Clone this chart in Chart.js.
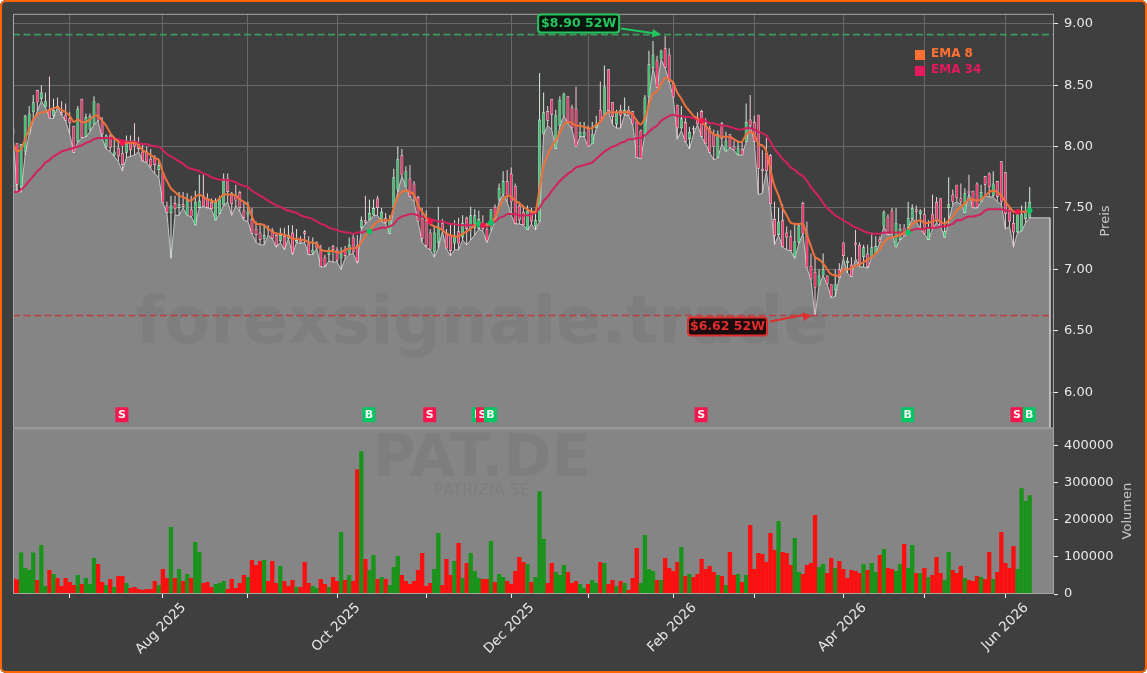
<!DOCTYPE html>
<html lang="de">
<head>
  <meta charset="UTF-8">
  <title>PAT.DE</title>
  <style>
    html, body { margin: 0; padding: 0; background: #fff; overflow: hidden; }
    .frame { position: relative; width: 1147px; height: 673px; background: #3f3f3f; border-radius: 6px; overflow: hidden; }
    .frame::after { content: ""; position: absolute; inset: 0; box-sizing: border-box; border: 2px solid #ff6600; border-radius: 6px; pointer-events: none; }
    canvas { display: block; }
  </style>
  <script src="https://cdn.jsdelivr.net/npm/chart.js"></script>
</head>
<body>
<div class="frame"><canvas id="chart" width="1147" height="673"></canvas></div>
<script>
  // Werte, ein Eintrag pro Handelstag (Index 0..251)
  const priceOpen = [
    8.15,8.03,7.67,7.96,8.10,8.28,8.46,8.39,8.32,8.30,
    8.25,8.33,8.28,8.26,8.23,8.17,8.04,8.39,8.08,8.14,
    8.18,8.35,8.21,8.00,8.09,7.93,7.99,7.95,7.95,8.04,
    8.05,8.03,7.96,7.96,7.90,7.91,7.81,7.79,7.52,7.46,
    7.54,7.50,7.53,7.44,7.49,7.36,7.50,7.60,7.58,7.55,
    7.40,7.45,7.52,7.74,7.62,7.61,7.63,7.48,7.44,7.41,
    7.33,7.30,7.25,7.33,7.32,7.28,7.23,7.27,7.25,7.30,
    7.22,7.25,7.31,7.21,7.13,7.22,7.16,7.10,7.12,7.19,
    7.16,7.09,7.16,7.13,7.26,7.20,7.34,7.40,7.40,7.44,
    7.58,7.39,7.42,7.29,7.50,7.65,7.93,7.67,7.74,7.70,
    7.59,7.42,7.40,7.30,7.14,7.22,7.38,7.30,7.28,7.21,
    7.31,7.26,7.42,7.33,7.34,7.33,7.37,7.33,7.36,7.51,
    7.57,7.61,7.72,7.78,7.68,7.52,7.47,7.32,7.48,7.35,
    7.39,8.10,8.29,8.39,7.98,8.17,8.25,8.41,8.32,8.31,
    8.08,8.08,8.14,8.02,8.15,8.30,8.26,8.63,8.36,8.18,
    8.30,8.26,8.30,8.29,8.21,8.13,8.10,8.40,8.64,8.70,
    8.71,8.80,8.75,8.52,8.34,8.15,8.20,8.06,8.15,8.22,
    8.29,8.19,8.15,8.10,7.91,8.19,7.96,8.10,8.00,7.93,
    7.98,8.04,8.22,8.20,8.26,7.82,7.95,7.93,7.41,7.28,
    7.40,7.30,7.27,7.10,7.22,7.54,7.30,7.03,6.98,6.87,
    6.95,6.95,6.88,6.83,7.00,7.22,7.05,7.04,7.22,7.20,
    7.10,7.13,7.10,7.13,7.25,7.35,7.43,7.48,7.18,7.24,
    7.34,7.34,7.41,7.49,7.45,7.45,7.24,7.45,7.55,7.58,
    7.26,7.50,7.61,7.69,7.58,7.46,7.64,7.64,7.70,7.55,
    7.76,7.78,7.60,7.72,7.88,7.79,7.49,7.38,7.30,7.31,
    7.41,7.42
  ];
  const priceClose = [
    8.10,7.69,8.02,8.25,8.27,8.36,8.36,8.44,8.37,8.23,
    8.30,8.32,8.26,8.21,8.19,7.95,8.31,8.07,8.24,8.25,
    8.37,8.21,8.10,8.09,7.99,7.96,7.92,7.85,8.05,7.97,
    8.00,7.98,7.88,7.87,7.84,7.85,7.85,7.54,7.46,7.52,
    7.49,7.53,7.51,7.56,7.43,7.55,7.56,7.51,7.50,7.49,
    7.55,7.58,7.74,7.63,7.53,7.56,7.50,7.42,7.47,7.29,
    7.28,7.24,7.28,7.32,7.25,7.19,7.28,7.17,7.28,7.13,
    7.24,7.22,7.29,7.12,7.16,7.17,7.02,7.03,7.15,7.16,
    7.07,7.13,7.11,7.20,7.14,7.06,7.40,7.38,7.46,7.50,
    7.50,7.47,7.38,7.40,7.75,7.90,7.77,7.80,7.59,7.58,
    7.39,7.25,7.19,7.16,7.30,7.35,7.32,7.17,7.15,7.27,
    7.21,7.38,7.33,7.44,7.44,7.41,7.33,7.23,7.49,7.41,
    7.66,7.72,7.60,7.55,7.37,7.40,7.36,7.48,7.39,7.40,
    8.22,8.28,8.21,8.26,8.26,8.38,8.43,8.19,8.15,8.00,
    8.12,8.12,8.00,8.10,8.18,8.21,8.49,8.29,8.24,8.28,
    8.25,8.30,8.25,8.18,7.91,7.90,8.40,8.67,8.75,8.48,
    8.78,8.64,8.53,8.40,8.15,8.23,8.04,8.12,8.14,8.18,
    8.08,8.02,7.95,8.00,8.10,8.06,8.05,7.99,7.97,7.99,
    7.93,8.20,8.17,8.04,7.82,7.80,7.80,7.53,7.27,7.39,
    7.18,7.26,7.15,7.23,7.36,7.29,7.01,6.92,6.85,6.95,
    7.00,6.88,6.78,6.88,6.93,7.11,7.07,6.94,7.20,7.04,
    7.18,7.02,7.18,7.19,7.22,7.47,7.28,7.29,7.38,7.33,
    7.27,7.42,7.50,7.47,7.48,7.29,7.33,7.33,7.39,7.35,
    7.31,7.53,7.55,7.58,7.55,7.62,7.62,7.50,7.50,7.63,
    7.69,7.67,7.70,7.59,7.55,7.45,7.39,7.30,7.45,7.45,
    7.47,7.55
  ];
  const priceHigh = [
    8.19,8.03,8.02,8.26,8.33,8.42,8.46,8.50,8.44,8.57,
    8.39,8.40,8.37,8.35,8.28,8.17,8.33,8.39,8.27,8.27,
    8.41,8.35,8.24,8.10,8.10,8.07,8.06,8.02,8.09,8.09,
    8.19,8.08,8.02,8.00,7.98,7.93,7.90,7.79,7.55,7.60,
    7.60,7.63,7.63,7.62,7.60,7.64,7.77,7.77,7.62,7.58,
    7.58,7.60,7.78,7.78,7.63,7.69,7.64,7.55,7.55,7.50,
    7.39,7.36,7.37,7.36,7.34,7.30,7.34,7.34,7.36,7.36,
    7.33,7.27,7.32,7.27,7.26,7.23,7.20,7.12,7.18,7.20,
    7.18,7.18,7.19,7.26,7.29,7.28,7.43,7.60,7.57,7.57,
    7.60,7.50,7.46,7.44,7.82,8.00,7.98,7.84,7.85,7.72,
    7.60,7.50,7.48,7.33,7.36,7.51,7.41,7.33,7.37,7.40,
    7.42,7.44,7.43,7.51,7.49,7.48,7.44,7.38,7.49,7.53,
    7.70,7.80,7.81,7.83,7.70,7.55,7.52,7.52,7.50,7.47,
    8.60,8.44,8.33,8.39,8.30,8.41,8.44,8.41,8.34,8.49,
    8.20,8.20,8.17,8.20,8.25,8.53,8.66,8.63,8.36,8.30,
    8.34,8.40,8.33,8.29,8.22,8.14,8.42,8.78,8.86,8.74,
    8.79,8.90,8.80,8.53,8.34,8.33,8.25,8.16,8.17,8.28,
    8.30,8.23,8.17,8.14,8.13,8.20,8.12,8.10,8.05,8.05,
    8.04,8.35,8.42,8.25,8.26,7.97,8.07,7.94,7.55,7.50,
    7.53,7.35,7.32,7.38,7.36,7.55,7.39,7.13,7.10,7.00,
    7.13,6.95,6.88,7.00,7.05,7.22,7.10,7.10,7.32,7.22,
    7.20,7.20,7.30,7.27,7.27,7.48,7.45,7.50,7.50,7.37,
    7.37,7.55,7.53,7.52,7.49,7.50,7.40,7.61,7.59,7.58,
    7.42,7.75,7.65,7.69,7.70,7.66,7.77,7.64,7.71,7.69,
    7.76,7.79,7.80,7.72,7.88,7.79,7.50,7.45,7.49,7.52,
    7.55,7.67
  ];
  const priceLow = [
    8.10,7.63,7.63,7.93,8.10,8.21,8.29,8.37,8.32,8.23,
    8.23,8.32,8.26,8.21,8.10,7.95,8.04,8.07,8.08,8.12,
    8.18,8.21,8.07,7.98,7.96,7.92,7.88,7.80,7.91,7.92,
    7.93,7.96,7.88,7.87,7.82,7.78,7.75,7.54,7.46,7.09,
    7.44,7.44,7.50,7.44,7.43,7.36,7.50,7.51,7.50,7.49,
    7.40,7.45,7.52,7.55,7.44,7.52,7.47,7.40,7.39,7.29,
    7.22,7.20,7.20,7.28,7.25,7.18,7.22,7.16,7.25,7.12,
    7.22,7.21,7.22,7.12,7.12,7.17,7.02,7.02,7.07,7.06,
    7.06,7.00,7.09,7.12,7.13,7.05,7.33,7.37,7.40,7.44,
    7.44,7.39,7.37,7.29,7.50,7.63,7.76,7.67,7.59,7.55,
    7.39,7.22,7.18,7.16,7.10,7.17,7.31,7.17,7.11,7.16,
    7.16,7.24,7.20,7.24,7.28,7.33,7.31,7.22,7.31,7.39,
    7.55,7.61,7.55,7.44,7.37,7.37,7.36,7.32,7.37,7.32,
    7.39,8.10,8.17,8.14,7.98,8.17,8.25,8.19,8.14,8.00,
    8.08,8.08,8.00,8.02,8.15,8.21,8.26,8.29,8.18,8.15,
    8.15,8.26,8.25,8.18,7.91,7.90,8.10,8.40,8.64,8.48,
    8.71,8.64,8.53,8.40,8.06,8.13,8.04,7.98,8.10,8.18,
    8.08,8.02,7.95,7.89,7.91,8.02,7.96,7.99,7.97,7.93,
    7.93,8.04,8.17,8.04,7.61,7.62,7.80,7.53,7.20,7.28,
    7.18,7.16,7.15,7.09,7.21,7.29,7.01,6.92,6.62,6.87,
    6.95,6.88,6.77,6.78,6.93,7.09,6.97,6.94,7.09,7.02,
    7.02,7.01,7.10,7.13,7.22,7.35,7.28,7.29,7.18,7.24,
    7.27,7.34,7.41,7.39,7.33,7.29,7.24,7.33,7.38,7.35,
    7.26,7.39,7.53,7.55,7.53,7.46,7.62,7.50,7.50,7.55,
    7.60,7.59,7.59,7.55,7.53,7.33,7.35,7.18,7.30,7.31,
    7.38,7.42
  ];
  const ema8 = [
    8.02,7.96,7.98,8.06,8.14,8.22,8.26,8.28,8.28,8.30,
    8.31,8.32,8.30,8.28,8.25,8.20,8.22,8.20,8.20,8.22,
    8.25,8.25,8.21,8.17,8.11,8.07,8.04,8.03,8.03,8.03,
    8.03,8.01,7.97,7.95,7.93,7.91,7.89,7.79,7.72,7.66,
    7.63,7.60,7.59,7.57,7.56,7.59,7.61,7.59,7.57,7.56,
    7.55,7.58,7.61,7.61,7.61,7.60,7.57,7.55,7.52,7.43,
    7.37,7.37,7.36,7.33,7.31,7.29,7.29,7.28,7.27,7.25,
    7.25,7.24,7.24,7.22,7.22,7.21,7.16,7.15,7.15,7.15,
    7.14,7.14,7.16,7.17,7.17,7.18,7.22,7.27,7.32,7.36,
    7.39,7.40,7.40,7.40,7.50,7.59,7.63,7.64,7.63,7.61,
    7.52,7.47,7.42,7.37,7.35,7.34,7.32,7.29,7.28,7.27,
    7.27,7.29,7.31,7.33,7.36,7.38,7.37,7.36,7.38,7.42,
    7.50,7.57,7.60,7.59,7.56,7.54,7.51,7.49,7.47,7.47,
    7.66,7.84,7.93,8.00,8.05,8.11,8.18,8.20,8.19,8.17,
    8.17,8.16,8.15,8.15,8.18,8.20,8.25,8.28,8.28,8.28,
    8.28,8.28,8.28,8.26,8.21,8.18,8.23,8.34,8.43,8.45,
    8.51,8.56,8.55,8.52,8.44,8.39,8.33,8.29,8.25,8.23,
    8.20,8.17,8.13,8.10,8.09,8.08,8.08,8.08,8.06,8.04,
    8.04,8.10,8.12,8.10,8.02,8.01,7.96,7.81,7.68,7.60,
    7.50,7.44,7.38,7.37,7.37,7.37,7.28,7.19,7.10,7.08,
    7.05,7.00,6.96,6.95,6.95,7.00,7.00,7.01,7.03,7.04,
    7.06,7.08,7.10,7.13,7.16,7.22,7.25,7.26,7.27,7.28,
    7.30,7.32,7.37,7.39,7.40,7.38,7.38,7.39,7.40,7.39,
    7.37,7.40,7.43,7.48,7.51,7.54,7.57,7.57,7.56,7.57,
    7.60,7.63,7.64,7.63,7.60,7.55,7.51,7.47,7.47,7.47,
    7.47,7.48
  ];
  const ema34 = [
    7.63,7.63,7.65,7.68,7.72,7.76,7.80,7.83,7.87,7.89,
    7.92,7.94,7.96,7.97,7.98,7.99,8.00,8.01,8.03,8.04,
    8.06,8.07,8.07,8.07,8.07,8.06,8.06,8.05,8.04,8.04,
    8.04,8.03,8.02,8.02,8.01,8.00,8.00,7.97,7.94,7.92,
    7.90,7.88,7.86,7.83,7.82,7.81,7.80,7.78,7.77,7.75,
    7.74,7.73,7.73,7.73,7.72,7.71,7.69,7.68,7.67,7.64,
    7.62,7.60,7.58,7.56,7.54,7.52,7.51,7.49,7.48,7.47,
    7.46,7.44,7.43,7.42,7.41,7.39,7.37,7.36,7.34,7.33,
    7.32,7.31,7.30,7.30,7.29,7.30,7.30,7.31,7.31,7.32,
    7.33,7.34,7.34,7.35,7.37,7.41,7.43,7.44,7.45,7.45,
    7.44,7.43,7.42,7.41,7.40,7.39,7.39,7.38,7.37,7.37,
    7.36,7.36,7.36,7.36,7.36,7.36,7.36,7.35,7.37,7.39,
    7.42,7.43,7.45,7.45,7.45,7.44,7.44,7.44,7.45,7.46,
    7.50,7.56,7.59,7.64,7.68,7.72,7.75,7.78,7.80,7.83,
    7.84,7.85,7.86,7.87,7.90,7.93,7.96,7.98,8.00,8.01,
    8.03,8.04,8.06,8.06,8.07,8.07,8.09,8.12,8.15,8.17,
    8.21,8.23,8.25,8.26,8.25,8.25,8.24,8.24,8.23,8.22,
    8.22,8.21,8.19,8.19,8.18,8.17,8.17,8.16,8.15,8.14,
    8.14,8.15,8.15,8.14,8.12,8.11,8.09,8.04,7.98,7.94,
    7.90,7.87,7.83,7.81,7.78,7.76,7.72,7.67,7.63,7.59,
    7.54,7.50,7.47,7.44,7.42,7.40,7.38,7.36,7.34,7.33,
    7.31,7.30,7.29,7.29,7.29,7.30,7.30,7.30,7.30,7.30,
    7.30,7.31,7.32,7.33,7.33,7.33,7.34,7.34,7.34,7.35,
    7.35,7.36,7.37,7.40,7.40,7.42,7.43,7.43,7.44,7.45,
    7.48,7.49,7.49,7.49,7.49,7.48,7.48,7.47,7.47,7.47,
    7.47,7.47
  ];
  const volume = [
    42000,39000,112000,70000,64500,112000,37600,131700,21500,64500,
    53800,43000,21500,43000,32300,24200,51100,26900,43000,26900,
    96800,80600,32300,24200,40300,18800,48400,48400,29600,16100,
    18800,13400,10800,13400,13400,34900,24200,67200,43000,180100,
    43000,67200,34900,53800,43000,139800,112900,29600,32300,18800,
    26900,29600,34900,13400,40300,16100,29600,51100,45700,91400,
    78000,88700,91400,34900,88700,29600,75300,34900,21500,37600,
    18800,18800,86000,29600,21500,16100,40300,26900,18800,45700,
    34900,166700,37600,51100,34900,336000,384400,94100,64500,104800,
    40300,45700,40300,24200,72600,102100,51100,34900,26900,34900,
    64500,110200,21500,29600,67200,164000,24200,94100,51100,88700,
    137100,43000,83300,110200,61800,43000,40300,40300,142500,32300,
    53800,45700,34900,26900,61800,99500,86000,80600,32300,45700,
    276900,147800,29600,83300,59100,51100,78000,59100,29600,34900,
    26900,16100,26900,37600,29600,86000,83300,26900,37600,21500,
    34900,29600,10800,43000,123600,29600,158600,67200,61800,37600,
    37600,96800,69900,61800,86000,126300,48400,53800,45700,53800,
    94100,67200,75300,59100,51100,48400,24200,112900,51100,53800,
    32300,51100,185500,67200,110200,107500,86000,164000,118300,196200,
    112900,110200,78000,150500,59100,53800,78000,83300,212400,72600,
    80600,56400,96800,69900,88700,67200,43000,64500,61800,56400,
    80600,64500,83300,59100,104800,121000,69900,67200,61800,80600,
    134400,69900,131700,56400,56400,69900,45700,51100,99500,56400,
    37600,112900,64500,56400,75300,43000,37600,34900,48400,45700,
    40300,112900,40300,59100,166700,83300,69900,129000,67200,284900,
    250000,266100
  ];
  const volumeUpBars = [
    2,3,4,5,7,8,10,16,18,19,20,23,25,28,36,39,41,43,45,46,50,51,52,58,62,66,70,74,75,78,
    81,83,86,88,89,91,93,94,95,104,105,109,111,113,114,115,118,120,121,127,129,130,131,
    134,135,136,140,141,143,144,146,149,151,155,156,157,158,160,165,167,174,176,179,181,
    189,193,194,199,200,203,210,212,213,215,218,219,221,222,224,226,230,231,235,239,242,
    248,249,250,251
  ];
  const signalBars = [27, 88, 103, 115, 116, 118, 170, 221, 248, 251];
  const signalKinds = ['S', 'B', 'S', 'B', 'S', 'B', 'S', 'B', 'S', 'B'];
  const signalPrices = [8.03, 7.31, 7.39, 7.37, 7.36, 7.38, 8.21, 7.30, 7.47, 7.48];
  const monthBars = [14, 37, 58, 80, 102, 123, 142, 163, 183, 205, 225, 245];
  const monthLabels = ['', 'Aug 2025', '', 'Oct 2025', '', 'Dec 2025', '', 'Feb 2026', '', 'Apr 2026', '', 'Jun 2026'];
  const priceTicks = [6.0, 6.5, 7.0, 7.5, 8.0, 8.5, 9.0];
  const volumeTicks = [0, 100000, 200000, 300000, 400000];
  const high52 = 8.912, high52Bar = 161;
  const low52 = 6.625, low52Bar = 198;
  const areaEndBar = 256, lastClose = 7.42;

  const FONT = '"DejaVu Sans", sans-serif';
  const priceMin = 5.707, priceMax = 9.081;

  // Fläche unter den Tiefs, läuft nach dem letzten Balken flach weiter und fällt senkrecht ab
  const areaData = priceLow.map((y, x) => ({ x, y }));
  areaData.push({ x: areaEndBar, y: lastClose }, { x: areaEndBar, y: priceMin });

  const candleUp = priceOpen.map((o, i) => priceClose[i] >= o);
  const wicks = priceLow.map((l, i) => ({ x: i, y: [l, priceHigh[i]] }));
  const bodies = priceOpen.map((o, i) => ({ x: i, y: [o, priceClose[i]] }));
  const volumeBars = volume.map((y, x) => ({ x, y }));

  function lineAt(value) {
    return [{ x: 0, y: value }, { x: 257, y: value }];
  }

  function badge(ctx, x, y, kind) {
    ctx.fillStyle = kind === 'B' ? '#00c764' : '#f7174f';
    ctx.fillRect(x - 6.5, y - 7.5, 13, 15);
    ctx.fillStyle = '#f4f4f4';
    ctx.font = 'bold 11px ' + FONT;
    ctx.textAlign = 'center';
    ctx.textBaseline = 'middle';
    ctx.fillText(kind, x, y + 0.5);
  }

  function note(ctx, text, left, top, w, h, color, fill, fromX, fromY, toX, toY) {
    ctx.strokeStyle = color;
    ctx.fillStyle = color;
    ctx.lineWidth = 2;
    ctx.beginPath();
    ctx.moveTo(fromX, fromY);
    ctx.lineTo(toX - 6, toY - 1);
    ctx.stroke();
    const a = Math.atan2(toY - fromY, toX - fromX);
    ctx.beginPath();
    ctx.moveTo(toX, toY);
    ctx.lineTo(toX - 10 * Math.cos(a - 0.45), toY - 10 * Math.sin(a - 0.45));
    ctx.lineTo(toX - 10 * Math.cos(a + 0.45), toY - 10 * Math.sin(a + 0.45));
    ctx.closePath();
    ctx.fill();
    ctx.beginPath();
    ctx.roundRect(left, top, w, h, 3);
    ctx.fillStyle = fill;
    ctx.fill();
    ctx.lineWidth = 2;
    ctx.stroke();
    ctx.fillStyle = color;
    ctx.font = 'bold 12.5px ' + FONT;
    ctx.textAlign = 'center';
    ctx.textBaseline = 'middle';
    ctx.fillText(text, left + w / 2, top + h / 2 + 0.5);
  }

  const panePlugin = {
    id: 'panes',
    beforeDatasetsDraw(chart) {
      const { ctx, scales } = chart;
      const v = scales.yVol;
      ctx.save();
      ctx.fillStyle = '#858585';
      ctx.fillRect(chart.chartArea.left, v.top, chart.chartArea.width, v.height);
      ctx.restore();
    },
    afterDatasetDraw(chart, args) {
      if (args.index !== 0) return;
      const { ctx } = chart;
      const cx = 482;
      ctx.save();
      ctx.fillStyle = 'rgba(40,40,40,0.07)';
      ctx.textAlign = 'center';
      ctx.textBaseline = 'middle';
      ctx.font = 'bold 66.5px ' + FONT;
      ctx.fillText('forexsignale.trade', cx, 326);
      ctx.font = 'bold 58px ' + FONT;
      ctx.fillText('PAT.DE', cx, 461);
      ctx.font = '16px ' + FONT;
      ctx.fillText('PATRIZIA SE', cx, 491);
      ctx.restore();
    },
    afterDatasetsDraw(chart) {
      const { ctx, scales, chartArea } = chart;
      const x = scales.x, p = scales.y, v = scales.yVol;
      ctx.save();
      // Rahmen und Trennlinie
      ctx.strokeStyle = '#a6a6a6';
      ctx.lineWidth = 1;
      ctx.strokeRect(chartArea.left + 0.5, chartArea.top + 0.5, chartArea.width - 1, chartArea.height - 1);
      ctx.strokeStyle = '#9c9c9c';
      ctx.lineWidth = 2;
      ctx.beginPath();
      ctx.moveTo(chartArea.left, v.top);
      ctx.lineTo(chartArea.right, v.top);
      ctx.stroke();
      // Signale
      const badgeY = p.bottom - 13.5;
      signalBars.forEach((bar, i) => badge(ctx, x.getPixelForValue(bar) - 0.5, badgeY, signalKinds[i]));
      // 52W Markierungen
      const hx = x.getPixelForValue(high52Bar), hy = p.getPixelForValue(high52);
      note(ctx, '$8.90 52W', hx - 127, hy - 20, 81, 18, '#22c55e', '#07150d', hx - 44, hy - 6, hx - 4, hy);
      const lx = x.getPixelForValue(low52Bar), ly = p.getPixelForValue(low52);
      note(ctx, '$6.62 52W', lx - 127, ly + 2, 79, 18, '#e02d2d', '#1a0c0c', lx - 45, ly + 6, lx - 3, ly);
      // Legende
      ctx.font = 'bold 12px ' + FONT;
      ctx.textAlign = 'left';
      ctx.textBaseline = 'middle';
      ctx.fillStyle = '#ff7033';
      ctx.fillRect(915, 50, 10, 10);
      ctx.fillText('EMA 8', 931, 54);
      ctx.fillStyle = '#e6195f';
      ctx.fillRect(915, 66, 10, 10);
      ctx.fillText('EMA 34', 931, 70);
      // Achsentitel
      ctx.fillStyle = '#c9c9c9';
      ctx.font = '13px ' + FONT;
      ctx.textAlign = 'center';
      [['Preis', 1106, (p.top + p.bottom) / 2], ['Volumen', 1128, (v.top + v.bottom) / 2]].forEach(([t, tx, ty]) => {
        ctx.save();
        ctx.translate(tx, ty);
        ctx.rotate(-Math.PI / 2);
        ctx.fillText(t, 0, 0);
        ctx.restore();
      });
      ctx.restore();
    }
  };

  const tickFont = { family: FONT, size: 13 };

  new Chart(document.getElementById('chart').getContext('2d'), {
    type: 'line',
    plugins: [panePlugin],
    data: {
      datasets: [
        {
          label: 'Kurs',
          type: 'line',
          data: areaData,
          yAxisID: 'y',
          borderColor: '#c4c4c4',
          borderWidth: 1,
          backgroundColor: '#858585',
          fill: 'start',
          pointRadius: 0,
          tension: 0,
          order: 50
        },
        {
          label: 'Volumen',
          type: 'bar',
          data: volumeBars,
          yAxisID: 'yVol',
          barThickness: 4.3,
          inflateAmount: 0,
          grouped: false,
          backgroundColor: ctx => volumeUpBars.includes(ctx.dataIndex) ? '#1a931a' : '#fb0f0f',
          order: 40
        },
        {
          label: 'Docht',
          type: 'bar',
          data: wicks,
          yAxisID: 'y',
          barThickness: 1,
          inflateAmount: 0,
          grouped: false,
          backgroundColor: ctx => candleUp[ctx.dataIndex] ? '#d6ecdb' : '#f0ccd6',
          order: 30
        },
        {
          label: 'Körper',
          type: 'bar',
          data: bodies,
          yAxisID: 'y',
          barThickness: 3,
          inflateAmount: 0,
          grouped: false,
          borderWidth: 0.7,
          borderSkipped: false,
          borderColor: '#e8e8e8',
          backgroundColor: ctx => candleUp[ctx.dataIndex] ? '#36cb6e' : '#ff2f6b',
          order: 20
        },
        {
          label: '52W Hoch',
          type: 'line',
          data: lineAt(high52),
          yAxisID: 'y',
          borderColor: '#3b9a5e',
          borderWidth: 1.7,
          borderDash: [7, 3.5],
          pointRadius: 0,
          order: 15
        },
        {
          label: '52W Tief',
          type: 'line',
          data: lineAt(low52),
          yAxisID: 'y',
          borderColor: '#bd3e3e',
          borderWidth: 1.5,
          borderDash: [7, 3.5],
          pointRadius: 0,
          order: 15
        },
        {
          label: 'EMA 34',
          type: 'line',
          data: ema34.map((y, x) => ({ x, y })),
          yAxisID: 'y',
          borderColor: '#d1215f',
          borderWidth: 2,
          pointRadius: 0,
          tension: 0.2,
          order: 10
        },
        {
          label: 'EMA 8',
          type: 'line',
          data: ema8.map((y, x) => ({ x, y })),
          yAxisID: 'y',
          borderColor: '#ec713a',
          borderWidth: 2,
          pointRadius: 0,
          tension: 0.2,
          order: 5
        },
        {
          label: 'Signale',
          type: 'line',
          data: signalBars.map((x, i) => ({ x, y: signalPrices[i] })),
          yAxisID: 'y',
          showLine: false,
          pointStyle: 'circle',
          pointRadius: 2.8,
          pointBorderWidth: 0,
          pointBackgroundColor: ctx => signalKinds[ctx.dataIndex] === 'B' ? '#00c764' : '#f7174f',
          order: 1
        }
      ]
    },
    options: {
      responsive: false,
      animation: false,
      events: [],
      layout: { padding: { left: 13, top: 13, right: 0, bottom: 0 } },
      plugins: { legend: { display: false }, tooltip: { enabled: false }, title: { display: false } },
      scales: {
        x: {
          type: 'linear',
          min: 0,
          max: 257,
          offset: false,
          afterBuildTicks: s => { s.ticks = monthBars.map(value => ({ value })); },
          afterFit: s => { s.height = 79; },
          border: { display: false },
          grid: { color: '#686868', lineWidth: 1, offset: false, drawTicks: true, tickLength: 4, tickColor: '#f0f0f0' },
          ticks: {
            autoSkip: false,
            minRotation: 45,
            maxRotation: 45,
            labelOffset: 21,
            padding: 2,
            color: '#e8e8e8',
            font: { family: FONT, size: 13.5 },
            callback: v => monthLabels[monthBars.indexOf(v)]
          }
        },
        y: {
          type: 'linear',
          position: 'right',
          stack: 'panes',
          stackWeight: 415,
          min: priceMin,
          max: priceMax,
          afterBuildTicks: s => { s.ticks = priceTicks.map(value => ({ value })); },
          afterFit: s => { s.width = 93; },
          border: { display: false },
          grid: { color: '#686868', lineWidth: 1, tickLength: 4, tickColor: '#f0f0f0' },
          ticks: {
            autoSkip: false,
            padding: 6,
            color: '#e8e8e8',
            font: tickFont,
            callback: v => v.toFixed(2)
          }
        },
        yVol: {
          type: 'linear',
          position: 'right',
          stack: 'panes',
          stackWeight: 166,
          min: 0,
          max: 446200,
          afterBuildTicks: s => { s.ticks = volumeTicks.map(value => ({ value })); },
          afterFit: s => { s.width = 93; },
          border: { display: false },
          grid: { drawOnChartArea: false, tickLength: 4, tickColor: '#f0f0f0' },
          ticks: {
            autoSkip: false,
            padding: 6,
            color: '#e8e8e8',
            font: tickFont,
            callback: v => String(v)
          }
        }
      }
    }
  });
</script>
</body>
</html>
